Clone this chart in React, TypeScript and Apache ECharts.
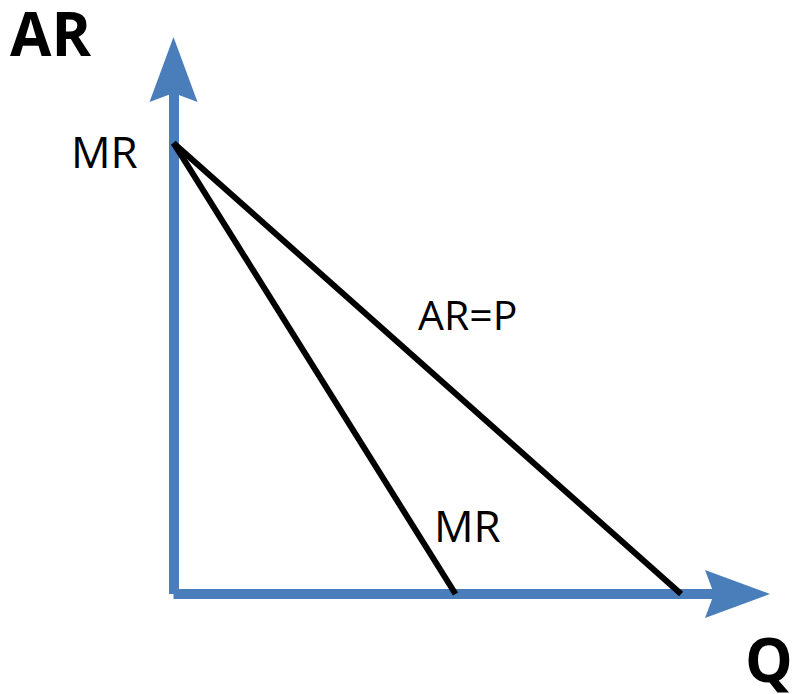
import React, { useEffect, useRef } from 'react';
import * as echarts from 'echarts';

// Data (axis units)
const xRange = [0, 10];
const yRange = [0, 10];
const arCurve = [[0, 8.6], [9.0, 0]];
const mrCurve = [[0, 8.6], [5.0, 0]];
const yAxisTitle = 'AR';
const xAxisTitle = 'Q';
const interceptLabel = 'MR';
const arLabel = 'AR=P';
const mrLabel = 'MR';

const BLUE = '#4A7EBB';
const FONT = '"Open Sans", "Liberation Sans", sans-serif';
const ARROW = 'path://M0,0 L24,65 L0,56 L-24,65 Z';

export default function App() {
  const ref = useRef<HTMLDivElement>(null);
  useEffect(() => {
    if (!ref.current) return;
    const chart = echarts.init(ref.current, undefined, { renderer: 'svg' });
    const axisCommon = {
      type: 'value' as const,
      axisTick: { show: false },
      axisLabel: { show: false },
      splitLine: { show: false },
      axisLine: {
        show: true,
        onZero: false,
        symbol: ['none', ARROW],
        symbolSize: [48, 65],
        lineStyle: { color: BLUE, width: 10, cap: 'butt' },
      },
    };
    chart.setOption({
      animation: false,
      grid: { left: 173.5, top: 69.5, right: 62.5, bottom: 100 },
      xAxis: { ...axisCommon, min: xRange[0], max: xRange[1] },
      yAxis: { ...axisCommon, min: yRange[0], max: yRange[1] },
      series: [
        {
          name: arLabel,
          type: 'line',
          data: arCurve,
          symbol: 'none',
          lineStyle: { color: '#000', width: 6, cap: 'butt' },
          z: 5,
        },
        {
          name: mrLabel,
          type: 'line',
          data: mrCurve,
          symbol: 'none',
          lineStyle: { color: '#000', width: 6, cap: 'butt' },
          z: 5,
        },
      ],
      graphic: [
        { type: 'text', left: 10, top: 3, style: { text: yAxisTitle, font: `bold 60px ${FONT}`, fill: '#000' } },
        { type: 'text', left: 71, top: 129, style: { text: interceptLabel, font: `44px ${FONT}`, fill: '#000' } },
        { type: 'text', left: 418, top: 293, style: { text: arLabel, font: `41px ${FONT}`, fill: '#000' } },
        { type: 'text', left: 434, top: 503, style: { text: mrLabel, font: `44px ${FONT}`, fill: '#000' } },
        { type: 'text', left: 745, top: 629, style: { text: xAxisTitle, font: `bold 60px ${FONT}`, fill: '#000' } },
      ],
    });
    return () => chart.dispose();
  }, []);
  return (
    <div
      ref={ref}
      style={{ position: 'absolute', left: 0, top: 0, width: 800, height: 694, background: '#fff' }}
    />
  );
}
